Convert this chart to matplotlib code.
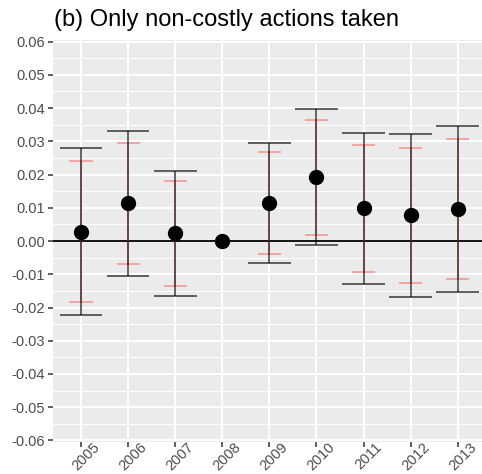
import numpy as np
import matplotlib.pyplot as plt
import matplotlib.transforms as mtransforms
from matplotlib.ticker import MultipleLocator

plt.rcParams['font.family'] = ['Liberation Sans', 'DejaVu Sans']

# Estimates with 95% (black) and 90% (pink) intervals
years = ['2005', '2006', '2007', '2008', '2009', '2010', '2011', '2012', '2013']
est = [0.0028, 0.0113, 0.0023, 0.0, 0.0114, 0.0192, 0.0099, 0.0078, 0.0097]
ci95_lo = [-0.0222, -0.0105, -0.0165, np.nan, -0.0067, -0.0013, -0.0129, -0.0167, -0.0152]
ci95_hi = [0.0281, 0.0331, 0.0210, np.nan, 0.0296, 0.0398, 0.0326, 0.0321, 0.0346]
ci90_lo = [-0.0182, -0.0070, -0.0135, np.nan, -0.0038, 0.0019, -0.0093, -0.0127, -0.0113]
ci90_hi = [0.0240, 0.0295, 0.0180, np.nan, 0.0267, 0.0365, 0.0290, 0.0281, 0.0306]

x = np.arange(1, len(years) + 1)

fig = plt.figure(figsize=(4.82, 4.74), dpi=100)
ax = fig.add_axes([0.110, 0.0665, 0.898, 0.850])
ax.set_facecolor('#EBEBEB')

ax.set_xlim(0.4, 9.6)
ax.set_ylim(-0.0606, 0.0606)

# ggplot-style grid
ax.yaxis.set_major_locator(MultipleLocator(0.01))
ax.yaxis.set_minor_locator(MultipleLocator(0.005))
ax.set_xticks(x)
ax.set_xticklabels(years)
ax.grid(which='major', color='white', linewidth=1.4)
ax.grid(which='minor', axis='y', color='white', linewidth=0.7)
ax.set_axisbelow(True)
for s in ax.spines.values():
    s.set_visible(False)

ax.axhline(0, color='black', linewidth=1.3, zorder=2)

# 90% intervals (pink)
ax.vlines(x, ci90_lo, ci90_hi, color='#F8766D', alpha=0.6, linewidth=1.3, zorder=3)
ax.hlines(ci90_lo, x - 0.25, x + 0.25, color='#F8766D', alpha=0.65, linewidth=1.3, zorder=3)
ax.hlines(ci90_hi, x - 0.25, x + 0.25, color='#F8766D', alpha=0.65, linewidth=1.3, zorder=3)

# 95% intervals (black)
ax.vlines(x, ci95_lo, ci95_hi, color='black', alpha=0.65, linewidth=1.3, zorder=4)
ax.hlines(ci95_lo, x - 0.45, x + 0.45, color='black', alpha=0.65, linewidth=1.3, zorder=4)
ax.hlines(ci95_hi, x - 0.45, x + 0.45, color='black', alpha=0.65, linewidth=1.3, zorder=4)

ax.plot(x, est, 'o', color='black', markersize=10, zorder=5)

ax.set_yticks(np.arange(-0.06, 0.061, 0.01))
ax.set_yticklabels(['%.2f' % v for v in np.arange(-0.06, 0.061, 0.01)])
ax.tick_params(axis='both', which='major', colors='#333333', length=3.5, width=1.1,
               labelsize=10.5, labelcolor='#4D4D4D')
ax.tick_params(axis='y', pad=2.5)
ax.tick_params(axis='x', pad=6.5)
ax.tick_params(axis='y', which='minor', length=0)

# rotated year labels, centred a little right of each tick
shift = mtransforms.ScaledTranslation(5 / 100, 0, fig.dpi_scale_trans)
for lbl in ax.get_xticklabels():
    lbl.set_rotation(45)
    lbl.set_rotation_mode('anchor')
    lbl.set_ha('center')
    lbl.set_va('center')
    lbl.set_transform(lbl.get_transform() + shift)

fig.text(0.112, 0.945, '(b) Only non-costly actions taken', fontsize=17,
         color='black', ha='left', va='baseline')

fig.savefig('out.png', dpi=100)
